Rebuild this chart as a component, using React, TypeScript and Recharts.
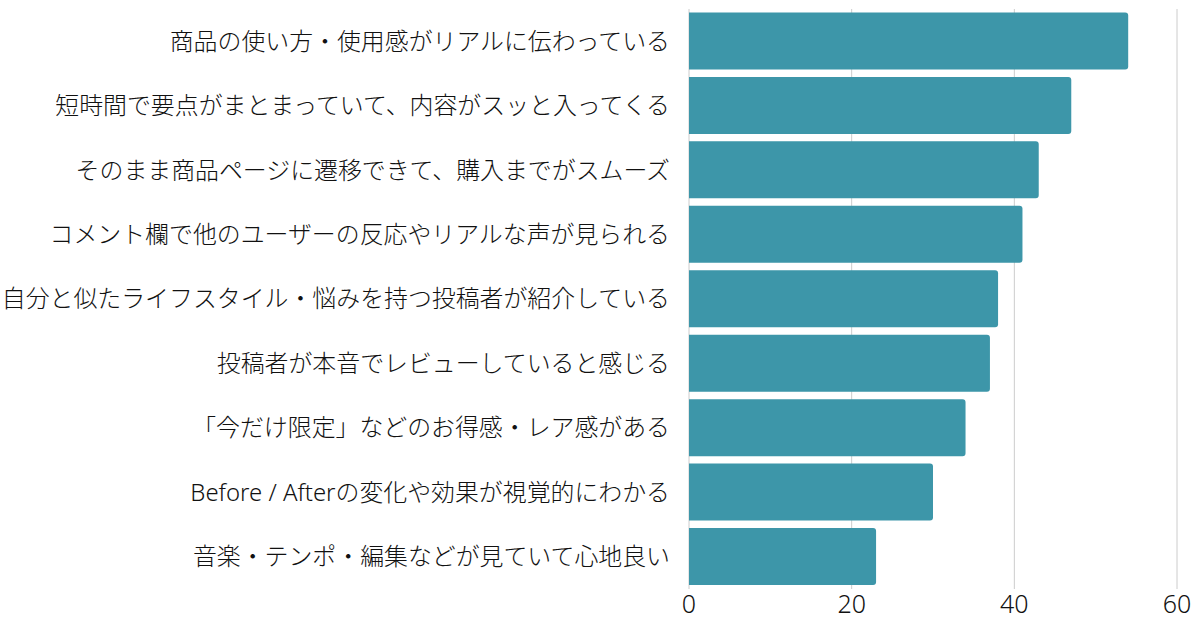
import React from 'react';
import { BarChart, Bar, XAxis, YAxis, CartesianGrid } from 'recharts';

const reasons = [
  '商品の使い方・使用感がリアルに伝わっている',
  '短時間で要点がまとまっていて、内容がスッと入ってくる',
  'そのまま商品ページに遷移できて、購入までがスムーズ',
  'コメント欄で他のユーザーの反応やリアルな声が見られる',
  '自分と似たライフスタイル・悩みを持つ投稿者が紹介している',
  '投稿者が本音でレビューしていると感じる',
  '「今だけ限定」などのお得感・レア感がある',
  'Before / Afterの変化や効果が視覚的にわかる',
  '音楽・テンポ・編集などが見ていて心地良い',
];
const counts = [54, 47, 43, 41, 38, 37, 34, 30, 23];
const xTicks = [0, 20, 40, 60];

const chartData = reasons.map((name, i) => ({ name, value: counts[i] }));

const FONT = "'Noto Sans', 'Noto Sans CJK JP', sans-serif";

export default function App() {
  return (
    <div style={{ width: 1200, height: 630, background: '#fff' }}>
      <style>{'body{margin:0}'}</style>
      <BarChart
        width={1200}
        height={630}
        data={chartData}
        layout="vertical"
        margin={{ top: 9, right: 23, left: 0, bottom: 0 }}
        barCategoryGap="5.4%"
      >
        <CartesianGrid horizontal={false} stroke="#cccccc" />
        <XAxis
          type="number"
          domain={[0, 60]}
          ticks={xTicks}
          axisLine={false}
          tickLine={false}
          height={41}
          tickSize={0}
          tickMargin={6}
          tick={{ fill: '#111', fontSize: 25, fontWeight: 300, fontFamily: FONT }}
        />
        <YAxis
          type="category"
          dataKey="name"
          width={689}
          axisLine={false}
          tickLine={false}
          tickSize={0}
          tickMargin={19}
          interval={0}
          tick={{ fill: '#111', fontSize: 23.9, fontWeight: 300, fontFamily: FONT }}
        />
        <Bar dataKey="value" fill="#3d96a9" radius={[0, 3, 3, 0]} isAnimationActive={false} />
      </BarChart>
    </div>
  );
}
